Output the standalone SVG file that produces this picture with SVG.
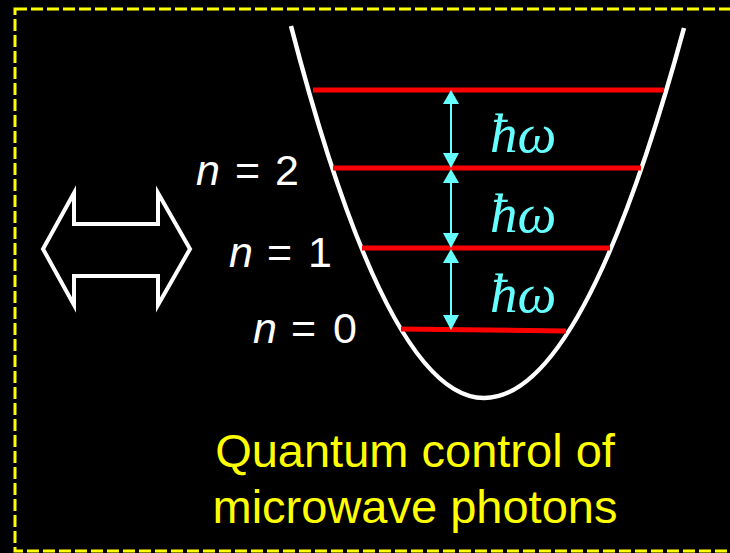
<svg xmlns="http://www.w3.org/2000/svg" width="730" height="553" viewBox="0 0 730 553">
<style>
.lvl{stroke:#FF0000;stroke-width:5;fill:none}
.arr{stroke:#66FFFF;stroke-width:2;fill:none}
.head{fill:#66FFFF}
.hw{font-family:"Liberation Serif",serif;font-style:italic;font-size:55px;fill:#66FFFF}
.n{font-family:"Liberation Sans",Arial,sans-serif;font-size:43px;fill:#FFFFFF}
.cap{font-family:"Liberation Sans",Arial,sans-serif;font-size:47px;fill:#FFFF00;text-anchor:middle}
</style>
<rect x="0" y="0" width="730" height="553" fill="#000000"/>
<rect id="border" x="15" y="9" width="725" height="542" fill="none" stroke="#FFFF00" stroke-width="3" stroke-dasharray="12 4"/>
<g id="double-arrow">
<polygon points="43,249 74,193 74,224 158,224 158,193 190,249 158,305 158,276 74,276 74,305" fill="none" stroke="#FFFFFF" stroke-width="4" stroke-linejoin="miter"/>
</g>
<g id="well">
<path d="M291,26 Q387.5,398 484,398 Q583.5,398 684,28" fill="none" stroke="#FFFFFF" stroke-width="4.5"/>
</g>
<g id="levels">
<line class="lvl" x1="313" y1="90" x2="664" y2="90"/>
<line class="lvl" x1="333" y1="168" x2="641" y2="168"/>
<line class="lvl" x1="362" y1="248" x2="610" y2="248"/>
<line class="lvl" x1="401" y1="329" x2="566" y2="331"/>
</g>
<g id="connectors">
<line class="arr" x1="451" y1="100" x2="451" y2="158"/>
<polygon class="head" points="451,90 443,104 459,104"/>
<polygon class="head" points="451,168 443,153 459,153"/>
<line class="arr" x1="451" y1="178" x2="451" y2="238"/>
<polygon class="head" points="451,169 443,183 459,183"/>
<polygon class="head" points="451,248 443,233 459,233"/>
<line class="arr" x1="451" y1="258" x2="451" y2="320"/>
<polygon class="head" points="451,249 443,263 459,263"/>
<polygon class="head" points="451,330 443,315 459,315"/>
</g>
<g id="labels-hw">
<text class="hw" x="490" y="152">ħω</text>
<text class="hw" x="490" y="232">ħω</text>
<text class="hw" x="490" y="312">ħω</text>
</g>
<g id="labels-n">
<text class="n" y="185"><tspan x="196" font-style="italic">n</tspan><tspan x="235">=</tspan><tspan x="275">2</tspan></text>
<text class="n" y="267"><tspan x="229" font-style="italic">n</tspan><tspan x="267">=</tspan><tspan x="308">1</tspan></text>
<text class="n" y="343"><tspan x="253" font-style="italic">n</tspan><tspan x="291">=</tspan><tspan x="333">0</tspan></text>
</g>
<g id="caption">
<text class="cap" x="415" y="467">Quantum control of</text>
<text class="cap" x="415" y="523">microwave photons</text>
</g>
</svg>
